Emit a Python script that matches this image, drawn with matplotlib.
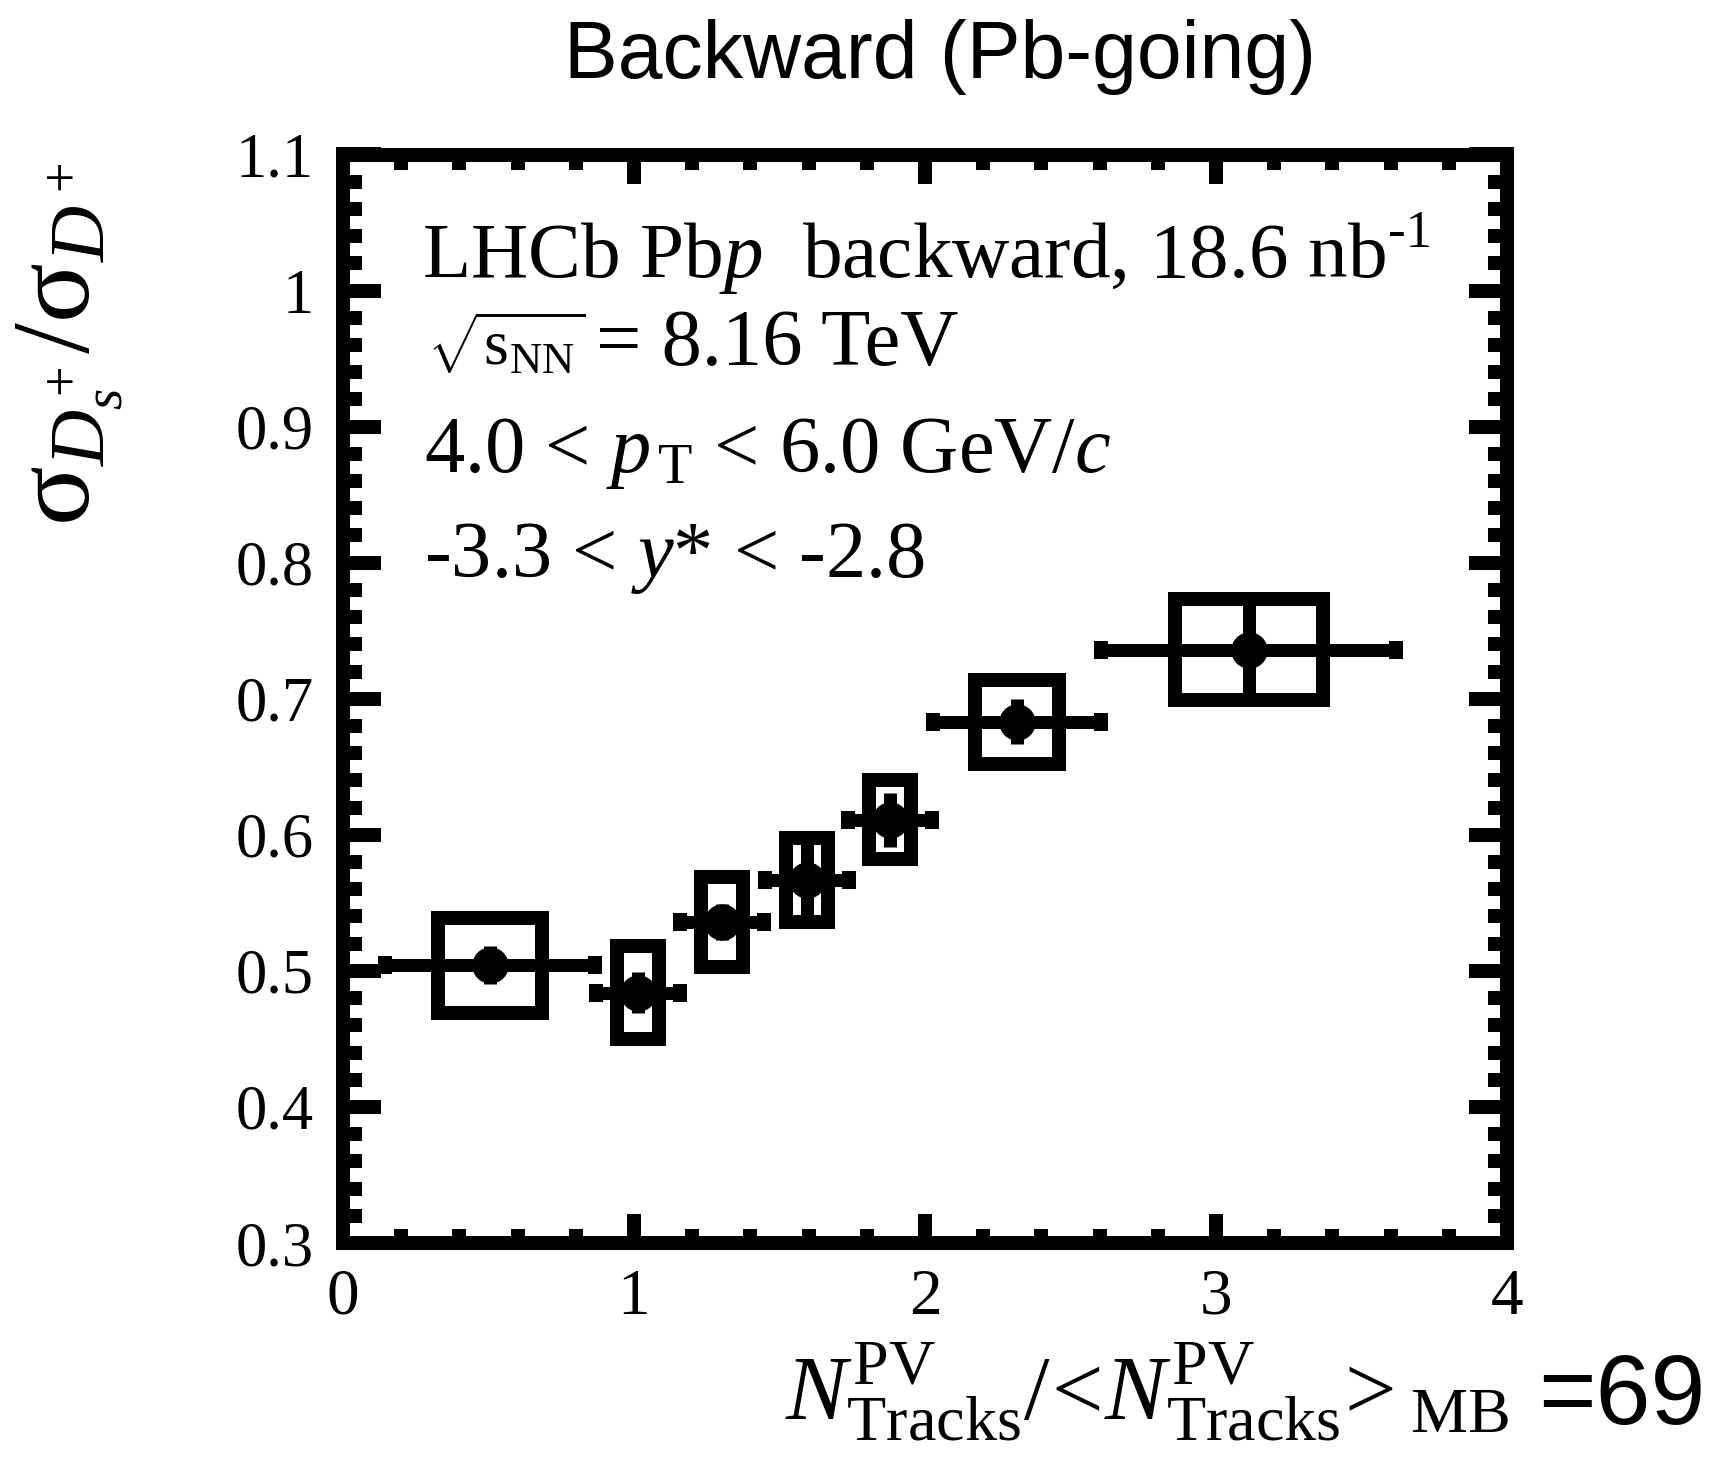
import numpy as np
import matplotlib.pyplot as plt
from matplotlib.patches import Rectangle
from matplotlib.ticker import MultipleLocator, FuncFormatter

plt.rcParams['font.family'] = 'Liberation Serif'
plt.rcParams['mathtext.fontset'] = 'custom'
plt.rcParams['mathtext.rm'] = 'Liberation Serif'
plt.rcParams['mathtext.it'] = 'Liberation Serif:italic'
plt.rcParams['mathtext.bf'] = 'Liberation Serif:bold'

# Ds+/D+ ratio vs normalised multiplicity, Pbp backward, 4 < pT < 6 GeV/c
mult = [0.505, 1.014, 1.302, 1.594, 1.880, 2.316, 3.113]
mult_err = [0.36, 0.145, 0.144, 0.145, 0.143, 0.289, 0.507]
ratio = [0.504, 0.484, 0.536, 0.567, 0.611, 0.683, 0.736]
stat_err = [0.014, 0.015, 0.013, 0.026, 0.020, 0.0165, 0.034]
syst_err = [0.035, 0.034, 0.033, 0.031, 0.029, 0.031, 0.037]

W, H = 1715, 1459
PT = 0.72  # points per pixel at dpi 100


def fx(p):
    return p / W


def fy(p):
    return 1 - p / H


fig = plt.figure(figsize=(W / 100, H / 100), dpi=100)
ax = fig.add_axes([fx(343), fy(1243), fx(1507) - fx(343), fy(154.5) - fy(1243)])

# horizontal bars with caps
ax.errorbar(mult, ratio, xerr=mult_err, fmt='none', ecolor='k',
            elinewidth=13 * PT, capsize=9 * PT, capthick=14 * PT, zorder=2)
# statistical errors
ax.errorbar(mult, ratio, yerr=stat_err, fmt='none', ecolor='k',
            elinewidth=13 * PT, capsize=0, zorder=2)
# systematic boxes
for xi, yi, wi, si in zip(mult, ratio, mult_err, syst_err):
    ax.add_patch(Rectangle((xi - wi / 2, yi - si), wi, 2 * si, fill=False,
                           edgecolor='k', lw=14 * PT, zorder=3))
ax.plot(mult, ratio, 'o', color='k', ms=35 * PT, zorder=4)

ax.set_xlim(0, 4)
ax.set_ylim(0.3, 1.1)
ax.xaxis.set_major_locator(MultipleLocator(1))
ax.xaxis.set_minor_locator(MultipleLocator(0.2))
ax.yaxis.set_major_locator(MultipleLocator(0.1))
ax.yaxis.set_minor_locator(MultipleLocator(0.02))
fmt = FuncFormatter(lambda v, pos: '%g' % round(v, 3))
ax.xaxis.set_major_formatter(fmt)
ax.yaxis.set_major_formatter(fmt)

for s in ax.spines.values():
    s.set_linewidth(14 * PT)
ax.tick_params(which='both', direction='in', top=True, right=True, width=14 * PT)
ax.tick_params(axis='x', which='major', length=29 * PT, labelsize=47, pad=18)
ax.tick_params(axis='x', which='minor', length=14.5 * PT)
ax.tick_params(axis='y', which='major', length=38 * PT, labelsize=45, pad=21)
ax.tick_params(axis='y', which='minor', length=19 * PT)
ax.xaxis.get_major_ticks()[-1].label1.set_fontfamily('Liberation Sans')

# axis titles
fig.text(fx(70), fy(163), r'$\mathrm{\sigma}_{D_s^+}/\mathrm{\sigma}_{D^+}$',
         rotation=90, ha='center', va='top', size=80)
fig.text(fx(1509), fy(1421),
         r'$N^{\mathrm{PV}}_{\mathrm{Tracks}}/\!<\!N^{\mathrm{PV}}_{\mathrm{Tracks}}\!>_{\mathrm{MB}}$',
         ha='right', va='baseline', size=66)
fig.text(fx(1538), fy(1424), '=69', ha='left', va='baseline', size=71,
         family='Liberation Sans')
fig.text(fx(940), fy(78), 'Backward (Pb-going)', ha='center', va='baseline',
         size=58, family='Liberation Sans')

# labels inside the frame
t1 = fig.text(fx(422), fy(277), r'LHCb Pb$p$  backward, 18.6 nb',
              ha='left', va='baseline', size=57)
fig.canvas.draw()
bb = t1.get_window_extent(renderer=fig.canvas.get_renderer())
fig.text(bb.x1 / W + fx(2), fy(277) + 30 / H, '-1', ha='left', va='baseline', size=38)

fig.text(fx(427), fy(365), r'$\sqrt{\mathrm{s}_{\mathrm{NN}}}$',
         ha='left', va='baseline', size=46)
fig.text(fx(596), fy(365), '= 8.16 TeV', ha='left', va='baseline', size=58)
fig.text(fx(424), fy(472), r'4.0 < $p_{\,\mathrm{T}}$ < 6.0 GeV/$c$',
         ha='left', va='baseline', size=58)
fig.text(fx(424), fy(577), r'-3.3 < $y$* < -2.8',
         ha='left', va='baseline', size=58)

fig.savefig('out.png', dpi=100)
